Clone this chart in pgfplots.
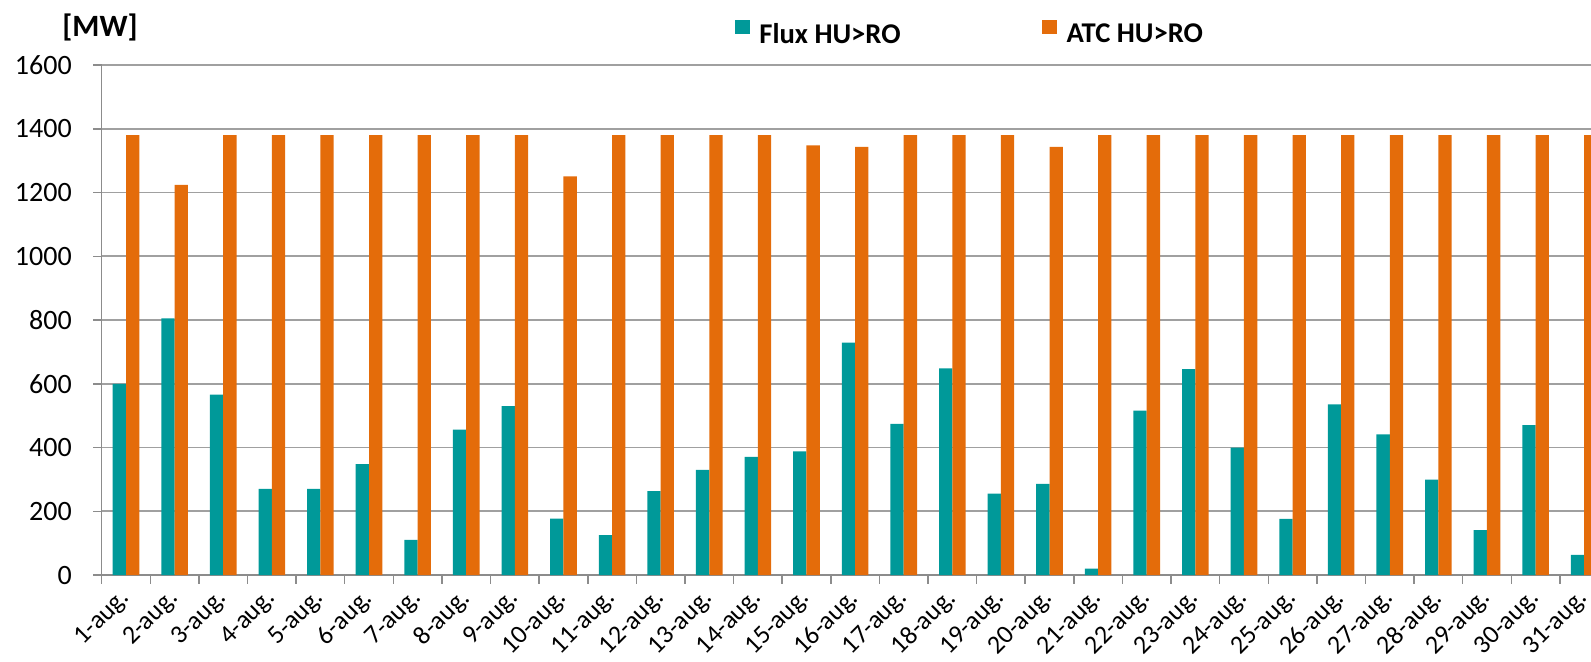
\documentclass[border=0pt]{standalone}
\usepackage{fontspec}
\setmainfont{Carlito}
\usepackage{pgfplots}
\pgfplotsset{compat=1.18}
\definecolor{fluxc}{RGB}{0,153,153}
\definecolor{atcc}{RGB}{228,108,10}
\definecolor{gridc}{RGB}{160,160,160}
\definecolor{axisc}{RGB}{140,140,140}
\begin{document}
\begin{tikzpicture}
\begin{axis}[
  name=ax, scale only axis, width=744.65pt, height=255pt,
  xmin=-0.5, xmax=30.14, ymin=0, ymax=1600,
  ybar=0pt, bar width=6.65pt,
  axis x line*=bottom, axis y line*=left,
  axis line style={draw=axisc, line width=0.75pt, -},
  ytick={0,200,...,1600},
  ymajorgrids, grid style={draw=gridc, line width=0.8pt},
  tick align=outside, major tick length=4.3pt,
  tick style={draw=axisc, line width=0.75pt},
  xtick={-0.5,0.5,...,29.5}, xticklabels={},
  extra x ticks={0,1,...,30},
  extra x tick labels={1-aug.,2-aug.,3-aug.,4-aug.,5-aug.,6-aug.,7-aug.,8-aug.,9-aug.,10-aug.,11-aug.,12-aug.,13-aug.,14-aug.,15-aug.,16-aug.,17-aug.,18-aug.,19-aug.,20-aug.,21-aug.,22-aug.,23-aug.,24-aug.,25-aug.,26-aug.,27-aug.,28-aug.,29-aug.,30-aug.,31-aug.},
  extra x tick style={major tick length=0pt},
  xticklabel style={font=\fontsize{13}{13}\selectfont, inner sep=0pt, xshift=0pt, yshift=-9.8pt, rotate=45, anchor=east},
  yticklabel style={font=\fontsize{14}{14}\selectfont, inner sep=0pt, xshift=-10.5pt},
  /pgf/number format/assume math mode=true, /pgf/number format/1000 sep={},
  ylabel={[MW]},
  every axis y label/.style={at={(axis description cs:0,1)}, anchor=base west, inner sep=0pt, xshift=-19.85pt, yshift=14.15pt, font=\bfseries\fontsize{15.5}{15.5}\selectfont},
  legend columns=2,
  legend style={at={(axis description cs:0.42523,1)}, anchor=south west, yshift=9.5pt, draw=none, fill=none, inner sep=0pt, outer sep=0pt, nodes={inner sep=0pt}, font=\bfseries\fontsize{14.3}{14.3}\selectfont,
    /tikz/every odd column/.append style={column sep=4.6pt},
    /tikz/every even column/.append style={column sep=70.8pt}},
]
\addplot[fill=fluxc, draw=none, legend image code/.code={\fill[fluxc] (0pt,0.3pt) rectangle (7.6pt,7.4pt);}] coordinates {
(0,600) (1,805) (2,566) (3,270) (4,270) (5,348) (6,110) (7,456) (8,530) (9,177)
(10,125) (11,263) (12,330) (13,371) (14,388) (15,729) (16,474) (17,648) (18,255) (19,286)
(20,20) (21,516) (22,646) (23,400) (24,176) (25,535) (26,441) (27,299) (28,141) (29,470) (30,63)};
\addlegendentry{Flux HU>RO}
\addplot[fill=atcc, draw=none, legend image code/.code={\fill[atcc] (0pt,0.3pt) rectangle (7.6pt,7.4pt);}] coordinates {
(0,1380) (1,1224) (2,1380) (3,1380) (4,1380) (5,1380) (6,1380) (7,1380) (8,1380) (9,1251)
(10,1380) (11,1380) (12,1380) (13,1380) (14,1348) (15,1343) (16,1380) (17,1380) (18,1380) (19,1343)
(20,1380) (21,1380) (22,1380) (23,1380) (24,1380) (25,1380) (26,1380) (27,1380) (28,1380) (29,1380) (30,1380)};
\addlegendentry{ATC HU>RO}
\end{axis}
\pgfresetboundingbox
\path[use as bounding box] ([xshift=-50.85pt,yshift=-43pt]ax.south west) rectangle ([yshift=32.5pt]ax.north east);
\end{tikzpicture}
\end{document}
